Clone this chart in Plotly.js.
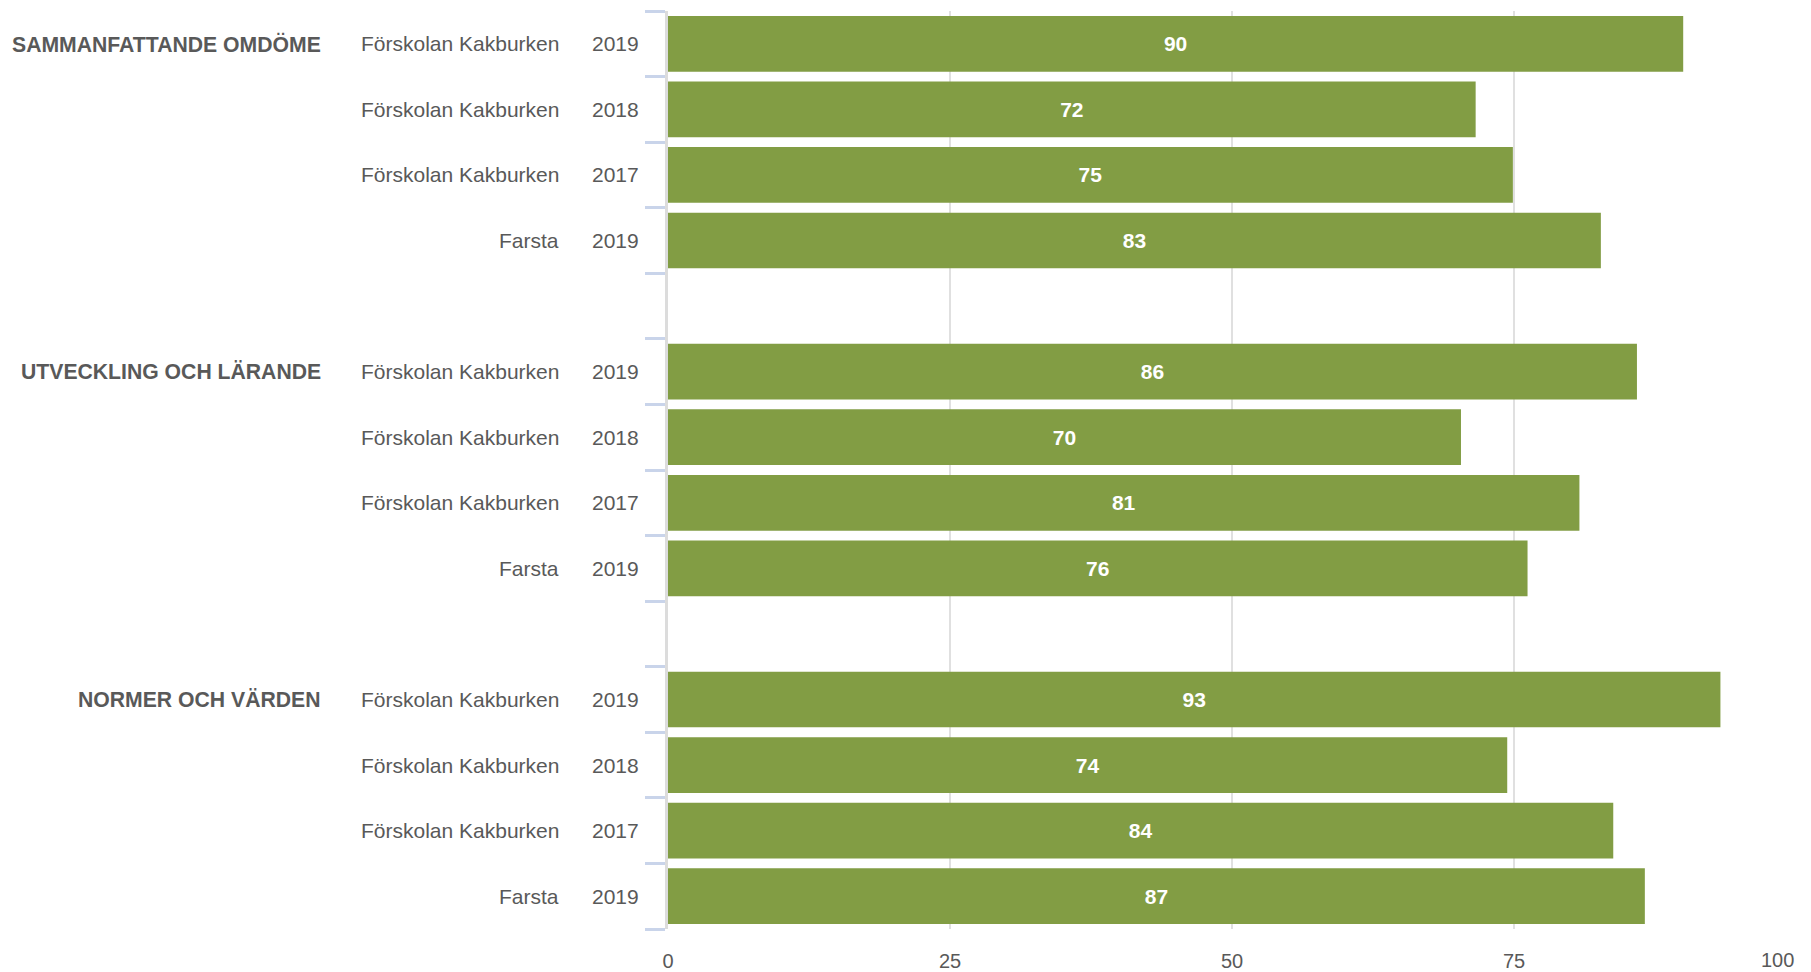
<!DOCTYPE html>
<html>
<head>
<meta charset="utf-8">
<script src="https://cdn.plot.ly/plotly-3.0.1.min.js"></script>
<style>html,body{margin:0;padding:0;background:#fff;}#chart{width:1811px;height:972px;}</style>
</head>
<body>
<div id="chart"></div>
<script>
// ---- data ----
const groups = ["SAMMANFATTANDE OMDÖME", "UTVECKLING OCH LÄRANDE", "NORMER OCH VÄRDEN"];
const units = ["Förskolan Kakburken", "Förskolan Kakburken", "Förskolan Kakburken", "Farsta"];
const years = ["2019", "2018", "2017", "2019"];
const valuesSammanfattande = [90, 71.6, 74.9, 82.7];
const valuesUtveckling = [85.9, 70.3, 80.8, 76.2];
const valuesNormer = [93.3, 74.4, 83.8, 86.6];
const xTickVals = [0, 25, 50, 75, 100];

// ---- build ----
const allValues = [valuesSammanfattande, valuesUtveckling, valuesNormer];
const slotsPerGroup = units.length + 1; // one empty slot between groups
const ys = [], xs = [];
const annotations = [];
const labelFont = {family: "Liberation Sans, Arial, sans-serif", size: 21, color: "#595959"};
allValues.forEach((vals, g) => {
  vals.forEach((v, i) => {
    const y = g * slotsPerGroup + i;
    ys.push(y); xs.push(v);
    annotations.push({xref: "paper", yref: "y", x: 0, y: y, xanchor: "right", yanchor: "middle",
      xshift: -27, text: years[i], showarrow: false, font: labelFont});
    annotations.push({xref: "paper", yref: "y", x: 0, y: y, xanchor: "right", yanchor: "middle",
      xshift: -107, text: units[i], showarrow: false, font: labelFont});
    if (i === 0) {
      annotations.push({xref: "paper", yref: "y", x: 0, y: y, xanchor: "right", yanchor: "middle",
        xshift: -345, text: "<b>" + groups[g] + "</b>", showarrow: false,
        font: {family: "Liberation Sans, Arial, sans-serif", size: 21.2, color: "#595959"}});
    }
  });
});
const nSlots = groups.length * slotsPerGroup - 1;
const boundaries = [];
for (let k = 0; k <= nSlots; k++) boundaries.push(k - 0.5);

const mainTicks = xTickVals.slice(0, -1);
const lastTick = xTickVals[xTickVals.length - 1];
annotations.push({xref: "x", yref: "paper", x: lastTick, y: 0, xanchor: "right", yanchor: "top",
  yshift: -18, text: String(lastTick), showarrow: false,
  font: {family: "Liberation Sans, Arial, sans-serif", size: 20, color: "#595959"}});

const trace = {
  type: "bar", orientation: "h", x: xs, y: ys,
  marker: {color: "#829d44"},
  text: xs.map(v => String(Math.round(v))),
  textposition: "inside", insidetextanchor: "middle", textangle: 0,
  constraintext: "none",
  textfont: {family: "Liberation Sans, Arial, sans-serif", size: 21, color: "#ffffff", weight: "bold"},
  hoverinfo: "x"
};

const layout = {
  width: 1811, height: 972,
  margin: {l: 668, r: 15, t: 11, b: 43},
  paper_bgcolor: "#ffffff", plot_bgcolor: "#ffffff",
  bargap: 0.15, showlegend: false,
  font: {family: "Liberation Sans, Arial, sans-serif", color: "#595959"},
  xaxis: {
    range: [0, 100], tickvals: mainTicks, ticktext: mainTicks.map(String),
    showgrid: true, gridcolor: "#e0e0e0", gridwidth: 2, zeroline: false,
    showline: false, ticks: "", ticklabelstandoff: 18,
    tickfont: {family: "Liberation Sans, Arial, sans-serif", size: 20, color: "#595959"}
  },
  yaxis: {
    range: [nSlots - 0.5, -0.5], tickvals: boundaries, showticklabels: false,
    ticks: "outside", ticklen: 20, tickwidth: 3, tickcolor: "#c9d4ea",
    showgrid: false, zeroline: false, showline: true, linecolor: "#dcdcdc", linewidth: 3
  },
  annotations: annotations
};

Plotly.newPlot("chart", [trace], layout, {displayModeBar: false, staticPlot: true});
</script>
</body>
</html>
